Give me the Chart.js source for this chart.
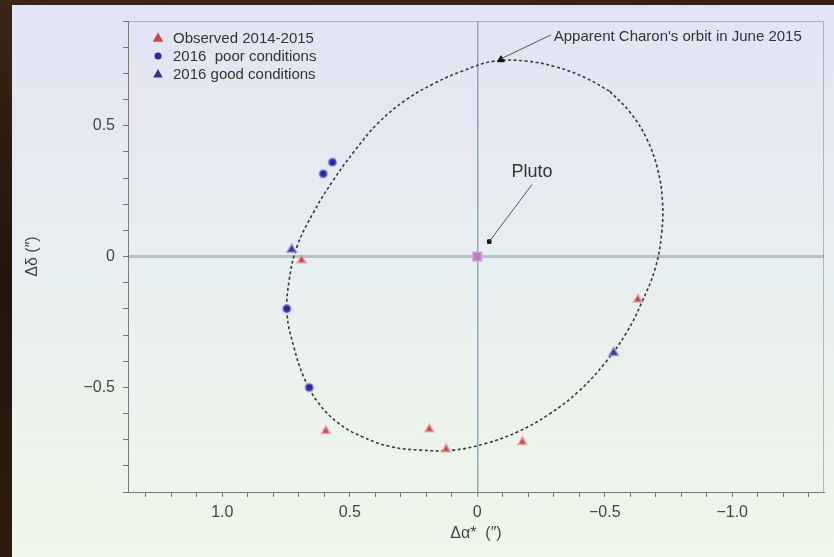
<!DOCTYPE html>
<html>
<head>
<meta charset="utf-8">
<script src="https://cdn.jsdelivr.net/npm/chart.js@4.4.0/dist/chart.umd.min.js"></script>
<style>
  html, body { margin: 0; padding: 0; background: #1c110b; }
  #wrap { position: relative; width: 834px; height: 557px; }
</style>
</head>
<body>
<div id="wrap"><canvas id="orbitChart" width="834" height="557"></canvas></div>
<script>
// offsets from Pluto, arcsec
const observedX = [0.689, 0.594, 0.188, 0.122, -0.177, -0.630];
const observedY = [-0.014, -0.667, -0.660, -0.737, -0.709, -0.164];
const poorX = [0.568, 0.604, 0.747, 0.659];
const poorY = [0.360, 0.316, -0.200, -0.501];
const goodX = [0.728, -0.535];
const goodY = [0.027, -0.368];
const plutoX = [0];
const plutoY = [0];

// apparent orbit of Charon, June 2015
const orbitX = [-0.520, -0.601, -0.664, -0.706, -0.726, -0.723, -0.698, -0.645, -0.586, -0.500,
  -0.399, -0.286, -0.163, -0.035, 0.094, 0.222, 0.342, 0.453, 0.545, 0.625,
  0.680, 0.719, 0.746, 0.738, 0.707, 0.645, 0.566, 0.480, 0.391, 0.285,
  0.172, 0.055, -0.063, -0.190, -0.311, -0.422, -0.520];
const orbitY = [0.631, 0.549, 0.451, 0.339, 0.216, 0.087, -0.045, -0.176, -0.290, -0.408,
  -0.514, -0.600, -0.668, -0.714, -0.740, -0.740, -0.726, -0.688, -0.637, -0.557,
  -0.462, -0.347, -0.221, -0.092, 0.038, 0.164, 0.290, 0.405, 0.508, 0.595,
  0.660, 0.710, 0.746, 0.747, 0.724, 0.684, 0.631];

// labelled markers and their callouts
const orbitMarkX = [-0.093];
const orbitMarkY = [0.752];
const arrowTipX = [-0.047];
const arrowTipY = [0.057];
const orbitNote = { text: "Apparent Charon's orbit in June 2015", x: -0.30, y: 0.84, fromX: -0.289, fromY: 0.847, toX: -0.094, toY: 0.756 };
const plutoNote = { text: 'Pluto', x: -0.215, y: 0.321, fromX: -0.215, fromY: 0.275, toX: -0.047, toY: 0.057 };

const xMajor = [1.0, 0.5, 0, -0.5, -1.0];
const yMajor = [0.5, 0, -0.5];
const legendLabels = ['Observed 2014-2015', '2016  poor conditions', '2016 good conditions'];

const FONT = "'Liberation Sans', Arial, sans-serif";

function pts(xs, ys) {
  return xs.map((x, i) => ({ x: x, y: ys[i] }));
}

function fmtTick(v, majors) {
  const hit = majors.find(m => Math.abs(m - v) < 1e-6);
  if (hit === undefined) return '';
  if (hit === 0) return '0';
  return hit < 0 ? '\u2212' + Math.abs(hit).toFixed(1) : hit.toFixed(1);
}

function isZero(ctx) {
  return ctx.tick && Math.abs(ctx.tick.value) < 1e-9;
}

function drawMarker(ctx, style, x, y, r, fill) {
  ctx.save();
  ctx.fillStyle = fill;
  ctx.beginPath();
  if (style === 'triangle') {
    ctx.moveTo(x, y - r);
    ctx.lineTo(x + r * 0.95, y + r * 0.7);
    ctx.lineTo(x - r * 0.95, y + r * 0.7);
    ctx.closePath();
  } else {
    ctx.arc(x, y, r, 0, Math.PI * 2);
  }
  ctx.fill();
  ctx.restore();
}

const backdrop = {
  id: 'backdrop',
  beforeDraw(chart) {
    const ctx = chart.ctx;
    const w = chart.width, h = chart.height;
    ctx.save();
    const dark = ctx.createLinearGradient(0, 0, 40, h);
    dark.addColorStop(0, '#3b2516');
    dark.addColorStop(0.5, '#22140c');
    dark.addColorStop(1, '#2e1c10');
    ctx.fillStyle = dark;
    ctx.fillRect(0, 0, w, h);
    const panel = ctx.createLinearGradient(0, 5, 0, h);
    panel.addColorStop(0, '#e3e3f4');
    panel.addColorStop(0.5, '#e8eff0');
    panel.addColorStop(1, '#eef7e8');
    ctx.fillStyle = panel;
    ctx.fillRect(12, 5, w - 12, h - 5);
    ctx.restore();
  },
  beforeDatasetsDraw(chart) {
    const { ctx, chartArea: a } = chart;
    ctx.save();
    ctx.strokeStyle = 'rgba(140,140,160,0.6)';
    ctx.lineWidth = 1;
    ctx.beginPath();
    ctx.moveTo(a.left, a.top + 0.5);
    ctx.lineTo(a.right - 0.5, a.top + 0.5);
    ctx.lineTo(a.right - 0.5, a.bottom);
    ctx.stroke();
    ctx.restore();
  }
};

const notes = {
  id: 'notes',
  afterDatasetsDraw(chart) {
    const { ctx, scales } = chart;
    const sx = scales.x, sy = scales.y;
    ctx.save();
    ctx.strokeStyle = '#555';
    ctx.lineWidth = 1;
    [orbitNote, plutoNote].forEach(n => {
      ctx.beginPath();
      ctx.moveTo(sx.getPixelForValue(n.fromX), sy.getPixelForValue(n.fromY));
      ctx.lineTo(sx.getPixelForValue(n.toX), sy.getPixelForValue(n.toY));
      ctx.stroke();
    });
    ctx.fillStyle = '#333';
    ctx.textBaseline = 'middle';
    ctx.font = '15px ' + FONT;
    ctx.textAlign = 'left';
    ctx.fillText(orbitNote.text, sx.getPixelForValue(orbitNote.x), sy.getPixelForValue(orbitNote.y));
    ctx.font = '18px ' + FONT;
    ctx.textAlign = 'center';
    ctx.fillText(plutoNote.text, sx.getPixelForValue(plutoNote.x), sy.getPixelForValue(plutoNote.y));

    // legend, top-left inside the plot
    const styles = [['triangle', 5.5, '#c94646'], ['circle', 3.5, '#2a2aa0'], ['triangle', 5, '#343490']];
    ctx.font = '15px ' + FONT;
    ctx.textAlign = 'left';
    legendLabels.forEach((label, i) => {
      const y = chart.chartArea.top + 17 + i * 18;
      drawMarker(ctx, styles[i][0], chart.chartArea.left + 30, y, styles[i][1], styles[i][2]);
      ctx.fillStyle = '#333';
      ctx.fillText(label, chart.chartArea.left + 45, y + 1);
    });
    ctx.restore();
  }
};

const chart = new Chart(document.getElementById('orbitChart'), {
  type: 'scatter',
  data: {
    datasets: [
      {
        label: 'orbit',
        data: pts(orbitX, orbitY),
        showLine: true,
        tension: 0.4,
        borderColor: '#3a3a3a',
        borderWidth: 1.6,
        borderDash: [3, 2.5],
        pointRadius: 0,
        order: 10
      },
      {
        label: 'orbit mark',
        data: pts(orbitMarkX, orbitMarkY),
        pointStyle: 'triangle',
        pointRadius: 4,
        backgroundColor: '#111',
        borderColor: '#111',
        order: 5
      },
      {
        label: 'arrow tip',
        data: pts(arrowTipX, arrowTipY),
        pointStyle: 'rect',
        pointRadius: 2.5,
        backgroundColor: '#111',
        borderColor: '#111',
        order: 5
      },
      {
        label: 'Pluto',
        data: pts(plutoX, plutoY),
        pointStyle: 'rect',
        pointRadius: 6,
        backgroundColor: '#b47ec0',
        borderColor: 'rgba(210,160,215,0.7)',
        borderWidth: 2,
        order: 4
      },
      {
        label: legendLabels[0],
        data: pts(observedX, observedY),
        pointStyle: 'triangle',
        pointRadius: 5,
        backgroundColor: '#c84848',
        borderColor: 'rgba(236,165,165,0.6)',
        borderWidth: 2,
        order: 1
      },
      {
        label: legendLabels[1],
        data: pts(poorX, poorY),
        pointStyle: 'circle',
        pointRadius: 4,
        backgroundColor: '#2b2b9c',
        borderColor: 'rgba(160,160,235,0.55)',
        borderWidth: 2,
        order: 1
      },
      {
        label: legendLabels[2],
        data: pts(goodX, goodY),
        pointStyle: 'triangle',
        pointRadius: 5.5,
        backgroundColor: '#35358e',
        borderColor: 'rgba(160,160,230,0.55)',
        borderWidth: 2,
        order: 0
      }
    ]
  },
  options: {
    responsive: false,
    animation: false,
    devicePixelRatio: 1,
    layout: { padding: { top: 21, right: 10, left: 0, bottom: 0 } },
    plugins: {
      legend: { display: false },
      tooltip: { enabled: false }
    },
    scales: {
      x: {
        type: 'linear',
        reverse: true,
        min: -1.36,
        max: 1.37,
        afterFit: s => { s.height = 65; },
        border: { color: '#7a7a7a', width: 1 },
        grid: {
          color: ctx => isZero(ctx) ? 'rgba(120,170,200,0.95)' : 'transparent',
          lineWidth: ctx => isZero(ctx) ? 1.5 : 1,
          tickColor: '#777',
          tickLength: 5,
          tickWidth: 1
        },
        ticks: {
          stepSize: 0.1,
          includeBounds: false,
          autoSkip: false,
          maxRotation: 0,
          padding: 6,
          color: '#444',
          font: { family: FONT, size: 16 },
          callback: v => fmtTick(v, xMajor)
        },
        title: {
          display: true,
          text: 'Δα*  (″)',
          color: '#444',
          font: { family: FONT, size: 16 },
          padding: { top: 0, bottom: 14 }
        }
      },
      y: {
        type: 'linear',
        min: -0.9,
        max: 0.9,
        afterFit: s => { s.width = 128; },
        border: { color: '#7a7a7a', width: 1 },
        grid: {
          color: ctx => isZero(ctx) ? 'rgba(180,192,192,0.95)' : 'transparent',
          lineWidth: ctx => isZero(ctx) ? 3 : 1,
          tickColor: '#777',
          tickLength: 5,
          tickWidth: 1
        },
        ticks: {
          stepSize: 0.1,
          includeBounds: false,
          autoSkip: false,
          padding: 8,
          color: '#444',
          font: { family: FONT, size: 16 },
          callback: v => fmtTick(v, yMajor)
        },
        title: {
          display: true,
          text: 'Δδ (″)',
          color: '#444',
          font: { family: FONT, size: 16 },
          padding: { top: 23, bottom: 0 }
        }
      }
    }
  },
  plugins: [backdrop, notes]
});
</script>
</body>
</html>
